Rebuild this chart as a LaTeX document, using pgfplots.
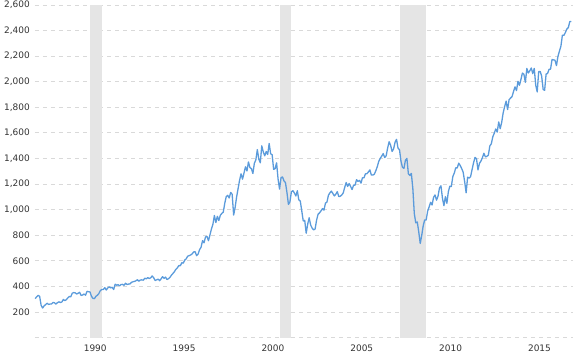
\documentclass[border=0pt]{standalone}
\usepackage{pgfplots}
\pgfplotsset{compat=1.18}
\usepackage{pgfplotstable}
\usepackage{fontspec}
\setmainfont{DejaVu Sans}
\definecolor{linecol}{HTML}{5B9BDB}
\definecolor{bandcol}{HTML}{E5E5E5}
\definecolor{gridcol}{HTML}{D9D9D9}
\definecolor{labcol}{HTML}{333333}
% S&P 500 monthly closes, Jun 1987 - Aug 2017
\pgfplotstableread{
v
304.00
318.66
329.80
321.83
251.79
230.30
247.08
257.07
267.82
258.89
261.33
262.16
273.50
272.02
261.52
271.91
278.97
273.70
277.72
297.47
288.86
294.87
309.64
320.52
317.98
346.08
351.45
349.15
340.36
345.99
353.40
329.08
331.89
339.94
330.80
361.23
358.02
356.15
322.56
306.05
304.00
322.22
330.22
343.93
367.07
375.22
375.35
389.83
371.16
387.81
395.43
387.86
392.46
375.22
417.09
408.79
412.70
403.69
414.95
415.35
408.14
424.21
414.03
417.80
418.68
431.35
435.71
438.78
443.38
451.67
440.19
450.19
450.53
448.13
463.56
458.93
467.83
461.79
466.45
481.61
467.14
445.77
450.91
456.50
444.27
458.26
475.49
462.69
472.35
453.69
459.27
470.42
487.39
500.71
514.71
533.40
544.75
562.06
561.88
584.41
581.50
605.37
615.93
636.02
640.43
645.50
654.17
669.12
670.63
639.95
651.99
687.31
705.27
757.02
740.74
786.16
790.82
757.12
801.34
848.28
885.14
954.29
899.47
947.28
914.62
955.40
970.43
980.28
1049.34
1101.75
1111.75
1090.82
1133.84
1120.67
957.28
1017.01
1098.67
1163.63
1229.23
1279.64
1238.33
1286.37
1335.18
1301.84
1372.71
1328.72
1320.41
1282.71
1362.93
1388.91
1469.25
1394.46
1366.42
1498.58
1452.43
1420.60
1454.60
1430.83
1517.68
1436.51
1429.40
1314.95
1320.28
1366.01
1239.94
1160.33
1249.46
1255.82
1224.38
1211.23
1133.58
1040.94
1059.78
1139.45
1148.08
1130.20
1106.73
1147.39
1076.92
1067.14
989.82
911.62
916.07
815.28
885.76
936.31
879.82
855.70
841.15
848.18
916.92
963.59
974.50
990.31
1008.01
995.97
1050.71
1058.20
1111.92
1131.13
1144.94
1126.21
1107.30
1120.68
1140.84
1101.72
1104.24
1114.58
1130.20
1173.82
1211.92
1181.27
1203.60
1180.59
1156.85
1191.50
1191.33
1234.18
1220.33
1228.81
1207.01
1249.48
1248.29
1280.08
1280.66
1294.83
1310.61
1270.09
1270.20
1276.66
1303.82
1335.85
1377.94
1400.63
1418.30
1438.24
1406.82
1420.86
1482.37
1530.62
1503.35
1455.27
1473.99
1526.75
1549.38
1481.14
1468.36
1378.55
1330.63
1322.70
1385.59
1400.38
1280.00
1267.38
1282.83
1166.36
968.75
896.24
903.25
825.88
735.09
797.87
872.81
919.14
919.32
987.48
1020.62
1057.08
1036.19
1095.63
1115.10
1073.87
1104.49
1169.43
1186.69
1089.41
1030.71
1101.60
1049.33
1141.20
1183.26
1180.55
1257.64
1286.12
1327.22
1325.83
1363.61
1345.20
1320.64
1292.28
1218.89
1131.42
1253.30
1246.96
1257.60
1312.41
1365.68
1408.47
1397.91
1310.33
1362.16
1379.32
1406.58
1440.67
1412.16
1416.18
1426.19
1498.11
1514.68
1569.19
1597.57
1630.74
1606.28
1685.73
1632.97
1681.55
1756.54
1805.81
1848.36
1782.59
1859.45
1872.34
1883.95
1923.57
1960.23
1930.67
2003.37
1972.29
2018.05
2067.56
2058.90
1994.99
2104.50
2067.89
2085.51
2107.39
2063.11
2103.84
1972.18
1920.03
2079.36
2080.41
2043.94
1940.24
1932.23
2059.74
2065.30
2096.95
2098.86
2173.60
2170.95
2168.27
2126.15
2198.81
2238.83
2278.87
2363.64
2362.72
2384.20
2411.80
2423.41
2470.30
2471.65
}\spdata
\begin{document}
\begin{tikzpicture}
\useasboundingbox (-35bp,-18.5bp) rectangle (538bp,337.5bp);
\begin{axis}[
  at={(0,0)}, anchor=south west,
  scale only axis,
  width=538bp, height=332.5bp,
  xmin=1987.405, xmax=2017.68,
  ymin=0, ymax=2600,
  axis line style={draw=none},
  tick style={draw=none},
  xtick={1990,1995,2000,2005,2010,2015},
  ytick={0,200,400,...,2600},
  yticklabels={,200,400,600,800,{1,000},{1,200},{1,400},{1,600},{1,800},{2,000},{2,200},{2,400},{2,600}},
  xticklabels={1990,1995,2000,2005,2010,2015},
  ymajorgrids,
  grid style={gridcol, dash pattern=on 4bp off 4bp, line width=0.8bp},
  tick label style={font=\fontsize{9}{10}\selectfont, text=labcol},
  xticklabel style={anchor=north west, inner sep=0pt, xshift=2.5bp, yshift=-7bp},
  yticklabel style={anchor=east, inner sep=0pt, xshift=-5bp},
  clip=false,
]
\addplot[fill=bandcol, draw=none] coordinates {(1990.5,0) (1990.5,2600) (1991.167,2600) (1991.167,0)} -- cycle;
\addplot[fill=bandcol, draw=none] coordinates {(2001.167,0) (2001.167,2600) (2001.833,2600) (2001.833,0)} -- cycle;
\addplot[fill=bandcol, draw=none] coordinates {(2007.917,0) (2007.917,2600) (2009.417,2600) (2009.417,0)} -- cycle;
\addplot[linecol, line width=1.3bp, line join=round, mark=none] table[x expr={1987+5/12+\coordindex/12}, y=v] {\spdata};
\end{axis}
\end{tikzpicture}
\end{document}
